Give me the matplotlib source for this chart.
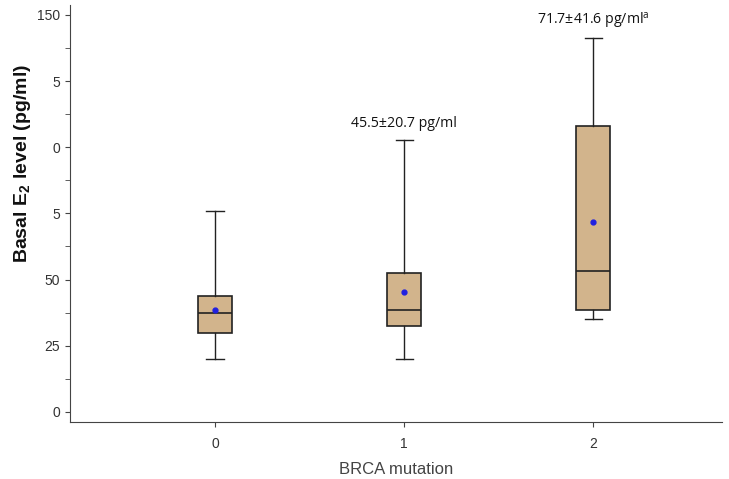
import matplotlib
matplotlib.use("Agg")
from matplotlib import pyplot as plt

plt.rcParams["font.family"] = ["Liberation Sans", "DejaVu Sans"]

# data
groups = [0, 1, 2]
whislo = [20, 20, 35]
q1 = [29.8, 32.5, 38.5]
med = [37.4, 38.5, 53.3]
q3 = [43.8, 52.5, 108]
whishi = [76, 102.8, 141.3]
means = [38.5, 45.3, 71.8]
ytick_vals = [0, 25, 50, 75, 100, 125, 150]
ytick_labels = ["0", "25", "50", "5", "0", "5", "150"]
notes = {1: "45.5±20.7 pg/ml", 2: "71.7±41.6 pg/ml$^{\\mathregular{a}}$"}

stats = []
for i in range(len(groups)):
    stats.append({"whislo": whislo[i], "q1": q1[i], "med": med[i],
                  "q3": q3[i], "whishi": whishi[i], "mean": means[i],
                  "fliers": []})

fig = plt.figure(figsize=(7.29, 4.79), dpi=100)
ax = fig.add_axes([0.096, 0.119, 0.894, 0.871])
ax.bxp(stats, positions=groups, widths=0.18, patch_artist=True,
       showmeans=True, showfliers=False,
       boxprops=dict(facecolor="#D2B48C", edgecolor="#222222", linewidth=1.2),
       medianprops=dict(color="#222222", linewidth=1.2),
       whiskerprops=dict(color="#222222", linewidth=1.0),
       capprops=dict(color="#222222", linewidth=1.0),
       capwidths=0.09,
       meanprops=dict(marker="o", markerfacecolor="#2020E0",
                      markeredgecolor="#2020E0", markersize=3.5))

for k, txt in notes.items():
    ax.text(k, whishi[k] + 5, txt, ha="center", va="baseline",
            fontsize=10.2, family="Open Sans", color="#111111")

ax.set_xlim(-0.767, 2.68)
ax.set_ylim(-3.8, 153.8)
ax.set_xticks(groups)
ax.set_xticklabels([str(g) for g in groups])
ax.set_yticks(ytick_vals)
ax.set_yticklabels(ytick_labels)
ax.set_yticks([12.5, 37.5, 62.5, 87.5, 112.5, 137.5], minor=True)
ax.tick_params(axis="both", colors="#444444", labelsize=10, labelcolor="#333333")
ax.tick_params(axis="x", pad=7.5)
ax.tick_params(axis="y", which="minor", length=3.5, color="#444444")
for s in ["top", "right"]:
    ax.spines[s].set_visible(False)
for s in ["left", "bottom"]:
    ax.spines[s].set_color("#444444")
ax.set_xlabel("BRCA mutation", fontsize=12, color="#444444", labelpad=8)
ax.set_ylabel("Basal E$_\\mathregular{2}$ level (pg/ml)", fontsize=14,
              fontweight="bold", color="#111111")
ax.yaxis.set_label_coords(-0.056, 0.62)
fig.savefig("out.png")
